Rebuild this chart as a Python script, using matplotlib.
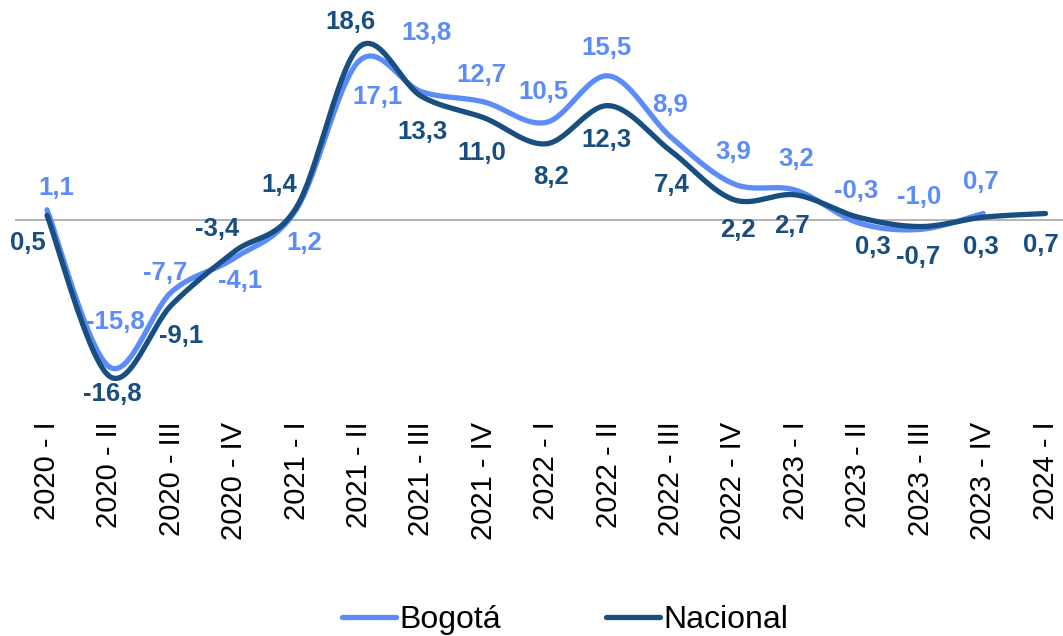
import numpy as np
import matplotlib
matplotlib.use('Agg')
import matplotlib.pyplot as plt

plt.rcParams['font.family'] = ['Liberation Sans', 'DejaVu Sans']

# trimestres
trimestres = ['2020 - I', '2020 - II', '2020 - III', '2020 - IV',
              '2021 - I', '2021 - II', '2021 - III', '2021 - IV',
              '2022 - I', '2022 - II', '2022 - III', '2022 - IV',
              '2023 - I', '2023 - II', '2023 - III', '2023 - IV',
              '2024 - I']

bogota = [1.1, -15.8, -7.7, -4.1, 1.2, 17.1, 13.8, 12.7, 10.5, 15.5,
          8.9, 3.9, 3.2, -0.3, -1.0, 0.7]
nacional = [0.5, -16.8, -9.1, -3.4, 1.4, 18.6, 13.3, 11.0, 8.2, 12.3,
            7.4, 2.2, 2.7, 0.3, -0.7, 0.3, 0.7]

# desplazamiento de las etiquetas (pixeles)
off_bog = [(9, 22), (6, 45), (-7, 19), (6, -23), (8, -34), (18, -36),
           (5, 59), (-2, 27), (-3, 30), (-2, 28), (-1, 32), (0, 32),
           (0, 31), (-2, 32), (-2, 32), (-2, 32)]
off_nac = [(-19, -28), (3, -18), (9, -31), (-17, 23), (-17, 22), (-9, 25),
           (1, -36), (-2, -35), (5, -33), (-2, -34), (1, -34), (4, -30),
           (-4, -31), (15, -30), (-3, -30), (-2, -30), (-5, -31)]

c_bog = '#5B8CF8'
c_nac = '#184E80'


def suave(y, n=30):
    # curva suavizada tipo Catmull-Rom (como las lineas suavizadas de Excel)
    x = np.arange(len(y), dtype=float)
    p = np.column_stack([x, np.asarray(y, dtype=float)])
    p = np.vstack([p[0], p, p[-1]])
    xs, ys = [], []
    t = np.linspace(0, 1, n)
    for i in range(1, len(p) - 2):
        p0, p1, p2, p3 = p[i - 1], p[i], p[i + 1], p[i + 2]
        for k in range(2):
            c = 0.5 * ((2 * p1[k]) + (-p0[k] + p2[k]) * t
                       + (2 * p0[k] - 5 * p1[k] + 4 * p2[k] - p3[k]) * t ** 2
                       + (-p0[k] + 3 * p1[k] - 3 * p2[k] + p3[k]) * t ** 3)
            (xs if k == 0 else ys).append(c)
    return np.concatenate(xs), np.concatenate(ys)


fig = plt.figure(figsize=(10.63, 6.36), dpi=100)
ax = fig.add_axes([15 / 1063, 1 - 405 / 636, 1048 / 1063, 405 / 636])

ax.axhline(0, color='#A6A6A6', lw=1.2, zorder=1)

xb, yb = suave(bogota)
xn, yn = suave(nacional)
ax.plot(xb, yb, color=c_bog, lw=3.8, solid_capstyle='round', label='Bogotá', zorder=2)
ax.plot(xn, yn, color=c_nac, lw=3.8, solid_capstyle='round', label='Nacional', zorder=3)

for i, v in enumerate(bogota):
    ax.annotate(f'{v:.1f}'.replace('.', ','), (i, v), xytext=off_bog[i],
                textcoords='offset pixels', ha='center', va='center',
                fontsize=18.5, fontweight='bold', color=c_bog)
for i, v in enumerate(nacional):
    ax.annotate(f'{v:.1f}'.replace('.', ','), (i, v), xytext=off_nac[i],
                textcoords='offset pixels', ha='center', va='center',
                fontsize=18.5, fontweight='bold', color=c_nac)

ax.set_xlim(-0.513, 16.28)
ax.set_ylim(-19.89, 23.66)
ax.set_xticks(range(len(trimestres)))
ax.set_xticklabels(trimestres, rotation=90, fontsize=21)
ax.tick_params(axis='x', length=0, pad=12)
ax.set_yticks([])
for s in ax.spines.values():
    s.set_visible(False)

fig.legend(loc='center', bbox_to_anchor=(565 / 1063, 0.025), ncol=2,
           frameon=False, fontsize=23, handlelength=1.7, handletextpad=0.1,
           columnspacing=3.3)

fig.savefig('out.png', dpi=100)
